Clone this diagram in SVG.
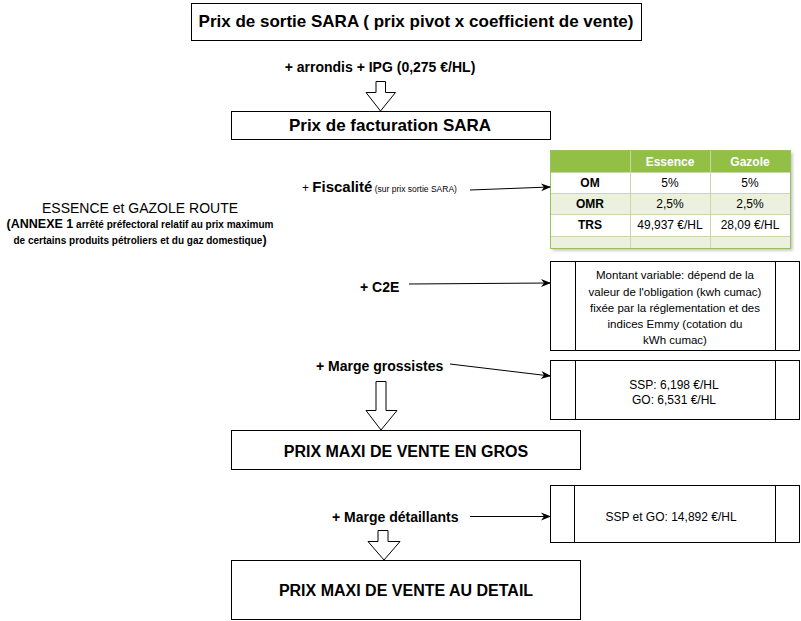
<svg xmlns="http://www.w3.org/2000/svg" width="801" height="621" viewBox="0 0 801 621">
<defs>
<marker id="ah" markerWidth="10" markerHeight="10" refX="9" refY="5" orient="auto" markerUnits="userSpaceOnUse">
<path d="M0,1 L10,5 L0,9 L3,5 Z" fill="#000"/>
</marker>
<filter id="sh" x="-5%" y="-5%" width="115%" height="120%">
<feDropShadow dx="2" dy="2" stdDeviation="1.5" flood-color="#000" flood-opacity="0.25"/>
</filter>
</defs>
<style>
text{font-family:"Liberation Sans",Arial,sans-serif;fill:#000}
.box{fill:#fff;stroke:#000;stroke-width:1}
.big{font-size:17px;font-weight:bold}
.cap{font-size:16px;font-weight:bold}
.lab{font-size:14px;font-weight:bold}
.sm{font-size:11.5px}
.md{font-size:12px}
.hol{fill:#fff;stroke:#000;stroke-width:1}
.con{stroke:#000;stroke-width:1;fill:none;marker-end:url(#ah)}
.th{font-size:12px;font-weight:bold;fill:#fff}
.tl{font-size:12px;font-weight:bold}
.tv{font-size:12px}
.grid{stroke:#c9d7ad;stroke-width:1}
</style>
<rect width="801" height="621" fill="#fff"/>

<g id="n-sortie">
<rect class="box" x="191.5" y="3.5" width="450" height="37"/>
<text class="big" x="416" y="27" text-anchor="middle">Prix de sortie SARA ( prix pivot x coefficient de vente)</text>
</g>

<g id="n-arrondis">
<text class="lab" x="380" y="72" text-anchor="middle">+ arrondis + IPG (0,275 €/HL)</text>
</g>

<g id="n-facturation">
<rect class="box" x="231.5" y="111.5" width="319" height="28"/>
<text class="big" x="390" y="131" text-anchor="middle">Prix de facturation SARA</text>
</g>

<g id="n-essence">
<text x="140" y="213" text-anchor="middle" font-size="14">ESSENCE et GAZOLE ROUTE</text>
<text x="140" y="228" text-anchor="middle" font-size="10" font-weight="bold"><tspan font-size="12.5">(ANNEXE 1</tspan> arrêté préfectoral relatif au prix maximum</text>
<text x="140" y="244" text-anchor="middle" font-size="10" font-weight="bold">de certains produits pétroliers et du gaz domestique<tspan font-size="12.5">)</tspan></text>
</g>

<g id="n-fiscalite">
<text x="302" y="192"><tspan font-size="12">+ </tspan><tspan font-size="15" font-weight="bold">Fiscalité</tspan><tspan font-size="8.5"> (sur prix sortie SARA)</tspan></text>
</g>

<g id="n-table">
<rect x="550.5" y="150.5" width="240" height="98" fill="#fff" filter="url(#sh)"/>
<rect x="550.5" y="150.5" width="240" height="22" fill="#92c047"/>
<rect x="550.5" y="172.5" width="240" height="21" fill="#fff"/>
<rect x="550.5" y="193.5" width="240" height="21" fill="#ebf1de"/>
<rect x="550.5" y="214.5" width="240" height="22" fill="#fff"/>
<rect x="550.5" y="236.5" width="240" height="12" fill="#ebf1de"/>
<line class="grid" x1="630.5" y1="150" x2="630.5" y2="249"/>
<line class="grid" x1="710.5" y1="150" x2="710.5" y2="249"/>
<line class="grid" x1="550" y1="172.5" x2="791" y2="172.5"/>
<line class="grid" x1="550" y1="193.5" x2="791" y2="193.5"/>
<line class="grid" x1="550" y1="214.5" x2="791" y2="214.5"/>
<line class="grid" x1="550" y1="236.5" x2="791" y2="236.5"/>
<rect x="550.5" y="150.5" width="240" height="98" fill="none" stroke="#9bc25a" stroke-width="1"/>
<text class="th" x="670" y="166" text-anchor="middle">Essence</text>
<text class="th" x="750" y="166" text-anchor="middle">Gazole</text>
<text class="tl" x="590" y="187" text-anchor="middle">OM</text>
<text class="tv" x="670" y="187" text-anchor="middle">5%</text>
<text class="tv" x="750" y="187" text-anchor="middle">5%</text>
<text class="tl" x="590" y="208" text-anchor="middle">OMR</text>
<text class="tv" x="670" y="208" text-anchor="middle">2,5%</text>
<text class="tv" x="750" y="208" text-anchor="middle">2,5%</text>
<text class="tl" x="590" y="229" text-anchor="middle">TRS</text>
<text class="tv" x="670" y="229" text-anchor="middle">49,937 €/HL</text>
<text class="tv" x="750" y="229" text-anchor="middle">28,09 €/HL</text>
</g>

<g id="n-c2e-label">
<text class="lab" x="360" y="292">+ C2E</text>
</g>

<g id="n-c2e">
<rect class="box" x="550.5" y="261.5" width="249" height="89"/>
<line stroke="#000" x1="575.5" y1="261.5" x2="575.5" y2="350.5"/>
<line stroke="#000" x1="775.5" y1="261.5" x2="775.5" y2="350.5"/>
<text class="sm" x="675" y="279" text-anchor="middle">Montant variable: dépend de la</text>
<text class="sm" x="675" y="296" text-anchor="middle">valeur de l'obligation (kwh cumac)</text>
<text class="sm" x="675" y="312" text-anchor="middle">fixée par la réglementation et des</text>
<text class="sm" x="675" y="328" text-anchor="middle">indices Emmy (cotation du</text>
<text class="sm" x="675" y="344" text-anchor="middle">kWh cumac)</text>
</g>

<g id="n-grossistes-label">
<text class="lab" x="316" y="371">+ Marge grossistes</text>
</g>

<g id="n-grossistes">
<rect class="box" x="550.5" y="360.5" width="249" height="59"/>
<line stroke="#000" x1="575.5" y1="360.5" x2="575.5" y2="419.5"/>
<line stroke="#000" x1="775.5" y1="360.5" x2="775.5" y2="419.5"/>
<text class="md" x="674" y="389" text-anchor="middle">SSP: 6,198 €/HL</text>
<text class="md" x="674" y="404" text-anchor="middle">GO: 6,531 €/HL</text>
</g>

<g id="n-gros">
<rect class="box" x="231.5" y="430.5" width="349" height="39"/>
<text class="cap" x="406" y="457" text-anchor="middle">PRIX MAXI DE VENTE EN GROS</text>
</g>

<g id="n-detaillants-label">
<text class="lab" x="332" y="522">+ Marge détaillants</text>
</g>

<g id="n-detaillants">
<rect class="box" x="550.5" y="485.5" width="249" height="57"/>
<line stroke="#000" x1="574.5" y1="485.5" x2="574.5" y2="542.5"/>
<line stroke="#000" x1="775.5" y1="485.5" x2="775.5" y2="542.5"/>
<text class="md" x="671" y="521" text-anchor="middle">SSP et GO: 14,892 €/HL</text>
</g>

<g id="n-detail">
<rect class="box" x="231.5" y="560.5" width="349" height="59"/>
<text class="cap" x="406" y="596" text-anchor="middle">PRIX MAXI DE VENTE AU DETAIL</text>
</g>

<g id="connectors">
<polygon class="hol" points="376,81.5 385.5,81.5 385.5,92.5 395.5,92.5 380.5,111 366,92.5 376,92.5"/>
<polygon class="hol" points="376,381.5 386,381.5 386,410.5 397,410.5 381,430 366,410.5 376,410.5"/>
<polygon class="hol" points="378,530.5 388,530.5 388,541.5 400,541.5 384,560 368,541.5 378,541.5"/>
<line class="con" x1="470" y1="190" x2="550" y2="187"/>
<line class="con" x1="409" y1="284" x2="550" y2="283"/>
<line class="con" x1="450" y1="364" x2="550" y2="376"/>
<line class="con" x1="470" y1="516.5" x2="550" y2="516.5"/>
</g>
</svg>
